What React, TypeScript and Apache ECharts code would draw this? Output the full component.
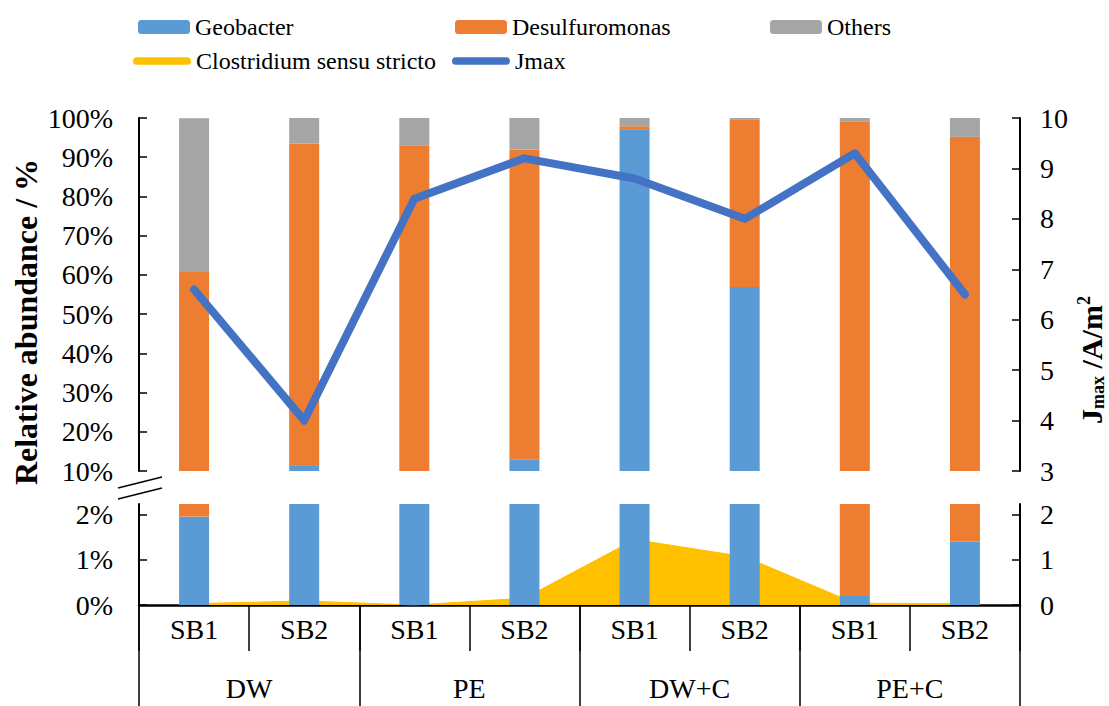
import React, { useEffect, useRef } from "react";
import * as echarts from "echarts";

const categories = ["SB1", "SB2", "SB1", "SB2", "SB1", "SB2", "SB1", "SB2"];
const groups = ["DW", "PE", "DW+C", "PE+C"];
const geobacter = [1.96, 11.5, 5.0, 12.9, 97.1, 56.9, 0.22, 1.41];
const desulfuromonas = [58.8, 82.0, 87.9, 79.1, 0.8, 42.8, 98.98, 93.79];
const others = [39.2, 6.5, 7.1, 8.0, 2.1, 0.3, 0.8, 4.8];
const clostridium = [0.03, 0.09, 0.0, 0.15, 1.45, 1.07, 0.04, 0.03];
const jmax = [6.6, 4.0, 8.4, 9.2, 8.8, 8.0, 9.3, 6.5];
const topPctTicks = [10, 20, 30, 40, 50, 60, 70, 80, 90, 100];
const lowPctTicks = [0, 1, 2];

const FONT = "'Liberation Serif', 'Times New Roman', 'DejaVu Serif', serif";
const C_GEO = "#5B9BD5";
const C_DES = "#ED7D31";
const C_OTH = "#A5A5A5";
const C_CLO = "#FFC000";
const C_J = "#4472C4";
const CAPSULE = "path://M4,0 H56 A4,4 0 0 1 56,8 H4 A4,4 0 0 1 4,0 Z";

export default function App() {
  const ref = useRef<HTMLDivElement>(null);
  useEffect(() => {
    document.body.style.margin = "0";
    const chart = echarts.init(ref.current!, null, { renderer: "svg" });
    const axisLine = { show: true, lineStyle: { color: "#000", width: 2 } };
    const tickIn = { show: true, inside: true, length: 8, lineStyle: { color: "#000", width: 1.5 } };
    const lbl = () => ({ color: "#000", fontSize: 28, fontFamily: FONT });
    const legendText = () => ({ fontSize: 24, fontFamily: FONT, color: "#000" });
    const barSeries = (gi: number) => {
      const xi = gi === 0 ? 0 : 1;
      const yi = gi === 0 ? 0 : 2;
      return [
        { name: "Geobacter", data: geobacter, color: C_GEO },
        { name: "Desulfuromonas", data: desulfuromonas, color: C_DES },
        { name: "Others", data: others, color: C_OTH },
      ].map((s) => ({
        type: "bar",
        name: s.name,
        data: s.data,
        stack: "g" + gi,
        xAxisIndex: xi,
        yAxisIndex: yi,
        barWidth: 30,
        z: 3,
        itemStyle: { color: s.color },
      }));
    };
    const mkLegend = (name: string, left: number, top: number, line: boolean) => ({
      data: [line ? { name, icon: CAPSULE } : name],
      left,
      top,
      padding: 0,
      itemGap: 0,
      itemWidth: line ? 58 : 52,
      itemHeight: line ? 8 : 14,
      selectedMode: false,
      textStyle: legendText(),
    });
    chart.setOption({
      animation: false,
      textStyle: { fontFamily: FONT },
      legend: [
        mkLegend("Geobacter", 138, 15, false),
        mkLegend("Desulfuromonas", 455, 15, false),
        mkLegend("Others", 770, 15, false),
        mkLegend("Clostridium sensu stricto", 133, 49, true),
        mkLegend("Jmax", 452, 49, true),
      ],
      grid: [
        { left: 139, right: 89, top: 118, height: 353 },
        { left: 139, right: 89, top: 504, height: 101 },
      ],
      xAxis: [
        { type: "category", gridIndex: 0, data: categories, show: false },
        {
          type: "category",
          gridIndex: 1,
          data: categories,
          axisLine: { show: true, lineStyle: { color: "#000", width: 2.5 } },
          axisTick: { show: true, length: 46, lineStyle: { color: "#000", width: 1.5 } },
          axisLabel: { ...lbl(), margin: 10 },
        },
        {
          type: "category",
          gridIndex: 1,
          position: "bottom",
          data: groups,
          axisLine: { show: false },
          axisTick: { show: true, length: 101, lineStyle: { color: "#000", width: 1.5 } },
          axisLabel: { ...lbl(), margin: 69 },
        },
      ],
      yAxis: [
        {
          type: "value",
          gridIndex: 0,
          min: 10,
          max: 100,
          interval: 10,
          axisLine,
          axisTick: tickIn,
          splitLine: { show: false },
          axisLabel: { ...lbl(), margin: 26, formatter: "{value}%", customValues: topPctTicks },
        },
        {
          type: "value",
          gridIndex: 0,
          position: "right",
          min: 3,
          max: 10,
          interval: 1,
          axisLine,
          axisTick: tickIn,
          splitLine: { show: false },
          axisLabel: { ...lbl(), margin: 20 },
        },
        {
          type: "value",
          gridIndex: 1,
          min: 0,
          max: 2.24,
          axisLine,
          axisTick: { ...tickIn, customValues: lowPctTicks },
          splitLine: { show: false },
          axisLabel: { ...lbl(), margin: 26, formatter: "{value}%", customValues: lowPctTicks },
        },
        {
          type: "value",
          gridIndex: 1,
          position: "right",
          min: 0,
          max: 2.24,
          axisLine,
          axisTick: { ...tickIn, customValues: lowPctTicks },
          splitLine: { show: false },
          axisLabel: { ...lbl(), margin: 20, customValues: lowPctTicks },
        },
      ],
      series: [
        ...barSeries(0),
        ...barSeries(1),
        {
          type: "line",
          name: "Clostridium sensu stricto",
          data: clostridium,
          xAxisIndex: 1,
          yAxisIndex: 2,
          symbol: "none",
          z: 1,
          color: C_CLO,
          itemStyle: { color: C_CLO },
          lineStyle: { color: C_CLO, width: 1 },
          areaStyle: { color: C_CLO, opacity: 1 },
        },
        {
          type: "line",
          name: "Jmax",
          data: jmax,
          xAxisIndex: 0,
          yAxisIndex: 1,
          symbol: "none",
          z: 5,
          color: C_J,
          itemStyle: { color: C_J },
          lineStyle: { color: C_J, width: 8, cap: "round", join: "round" },
        },
      ],
      graphic: [
        {
          type: "text",
          x: 26,
          y: 322,
          rotation: Math.PI / 2,
          style: {
            text: "Relative abundance / %",
            fontSize: 32,
            fontWeight: "bold",
            fontFamily: FONT,
            fill: "#000",
            align: "center",
            verticalAlign: "middle",
          },
        },
        {
          type: "text",
          x: 1091,
          y: 360,
          rotation: Math.PI / 2,
          style: {
            text: "{b|J}{s|max}{b| /A/m}{p|2}",
            fontFamily: FONT,
            fill: "#000",
            align: "center",
            verticalAlign: "middle",
            rich: {
              b: { fontSize: 30, fontWeight: "bold", fontFamily: FONT, fill: "#000", lineHeight: 32, verticalAlign: "middle" },
              s: { fontSize: 18, fontWeight: "bold", fontFamily: FONT, fill: "#000", lineHeight: 32, verticalAlign: "bottom", padding: [9, 0, 0, 0] },
              p: { fontSize: 18, fontWeight: "bold", fontFamily: FONT, fill: "#000", lineHeight: 32, verticalAlign: "top", padding: [0, 0, 11, 0] },
            },
          },
        },
        { type: "line", shape: { x1: 118, y1: 488, x2: 162, y2: 477 }, style: { stroke: "#000", lineWidth: 1.5 } },
        { type: "line", shape: { x1: 118, y1: 499, x2: 162, y2: 488 }, style: { stroke: "#000", lineWidth: 1.5 } },
      ],
    });
    return () => chart.dispose();
  }, []);
  return <div ref={ref} style={{ width: 1109, height: 706, overflow: "hidden" }} />;
}
